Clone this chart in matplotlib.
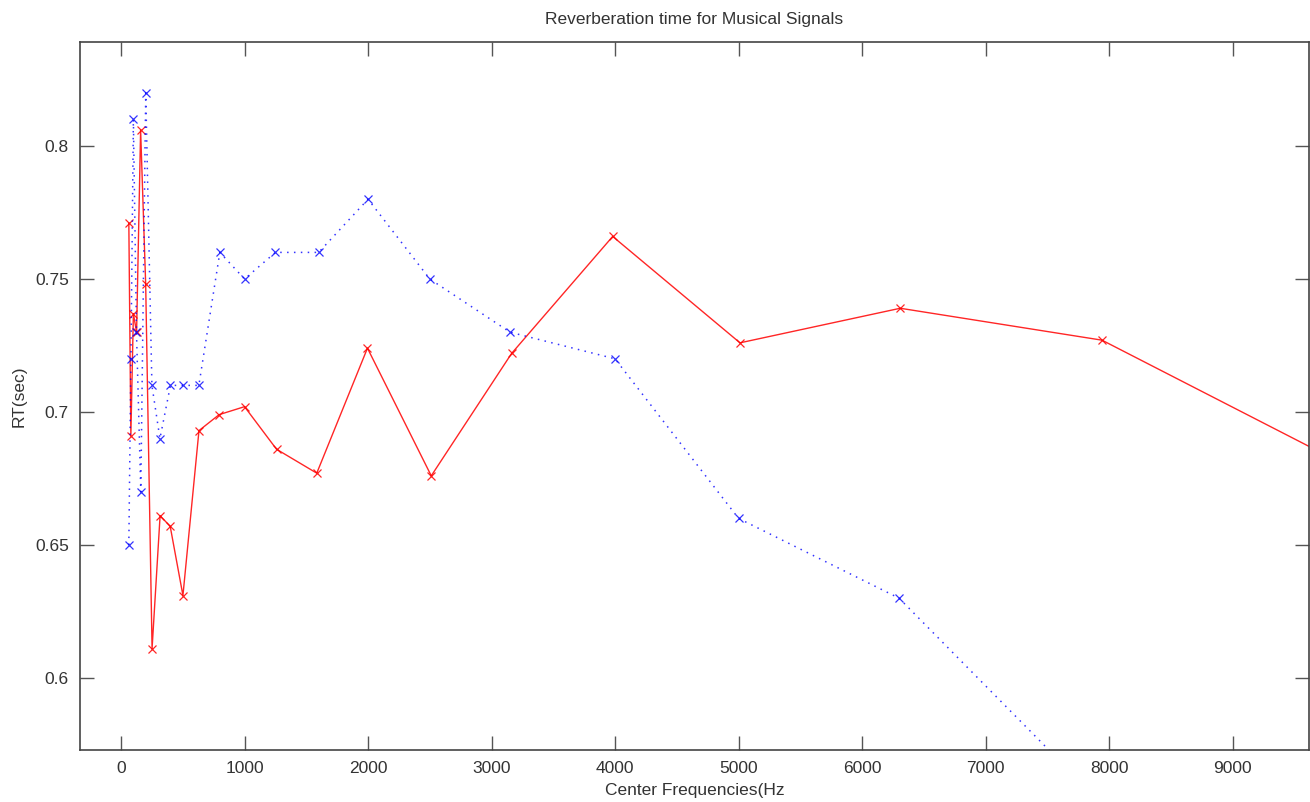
import matplotlib
matplotlib.use("Agg")
import matplotlib.pyplot as plt

# third-octave centre frequencies (nominal and exact)
freq_nominal = [63, 80, 100, 125, 160, 200, 250, 315, 400, 500, 630, 800,
                1000, 1250, 1600, 2000, 2500, 3150, 4000, 5000, 6300, 8000]
freq_exact = [63.1, 79.4, 100, 125.9, 158.5, 199.5, 251.2, 316.2, 398.1,
              501.2, 631.0, 794.3, 1000, 1258.9, 1584.9, 1995.3, 2511.9,
              3162.3, 3981.1, 5011.9, 6309.6, 7943.3, 10000]

rt_measured = [0.771, 0.691, 0.737, 0.730, 0.806, 0.748, 0.611, 0.661,
               0.657, 0.631, 0.693, 0.699, 0.702, 0.686, 0.677, 0.724,
               0.676, 0.722, 0.766, 0.726, 0.739, 0.727, 0.678]
rt_reference = [0.65, 0.72, 0.81, 0.73, 0.67, 0.82, 0.71, 0.69, 0.71, 0.71,
                0.71, 0.76, 0.75, 0.76, 0.76, 0.78, 0.75, 0.73, 0.72, 0.66,
                0.63, 0.55]

xticks = [0, 1000, 2000, 3000, 4000, 5000, 6000, 7000, 8000, 9000]
yticks = [0.6, 0.65, 0.7, 0.75, 0.8]
ytick_labels = ["0.6", "0.65", "0.7", "0.75", "0.8"]

plt.rcParams['font.family'] = ['Liberation Sans', 'DejaVu Sans']
text_color = '#333333'

fig = plt.figure(figsize=(13.1, 8.02), dpi=100)
ax = fig.add_axes([0.0611, 0.0648, 0.9381, 0.8828])

ax.plot(freq_exact, rt_measured, color='red', linestyle='-', linewidth=1.0,
        marker='x', markersize=6, markeredgewidth=0.9, alpha=0.85)
ax.plot(freq_nominal, rt_reference, color='blue', linestyle=(0, (1, 3.5)),
        linewidth=1.1, marker='x', markersize=6, markeredgewidth=0.9,
        alpha=0.8)

ax.set_xlim(-332, 9619)
ax.set_ylim(0.5729, 0.8391)
ax.set_xticks(xticks)
ax.set_xticklabels([str(t) for t in xticks])
ax.set_yticks(yticks)
ax.set_yticklabels(ytick_labels)

ax.tick_params(direction='in', length=10, width=1.0, top=True, right=True,
               labelsize=12.5, labelcolor=text_color, color='#555555', pad=8)
for side in ax.spines.values():
    side.set_color('#444444')
    side.set_linewidth(1.2)

ax.set_title("Reverberation time for Musical Signals", fontsize=12.5,
             color=text_color, pad=13)
ax.set_xlabel("Center Frequencies(Hz", fontsize=12.5, color=text_color,
              labelpad=5)
ax.set_ylabel("RT(sec)", fontsize=12.5, color=text_color, labelpad=6)

plt.savefig("out.png", dpi=100)
